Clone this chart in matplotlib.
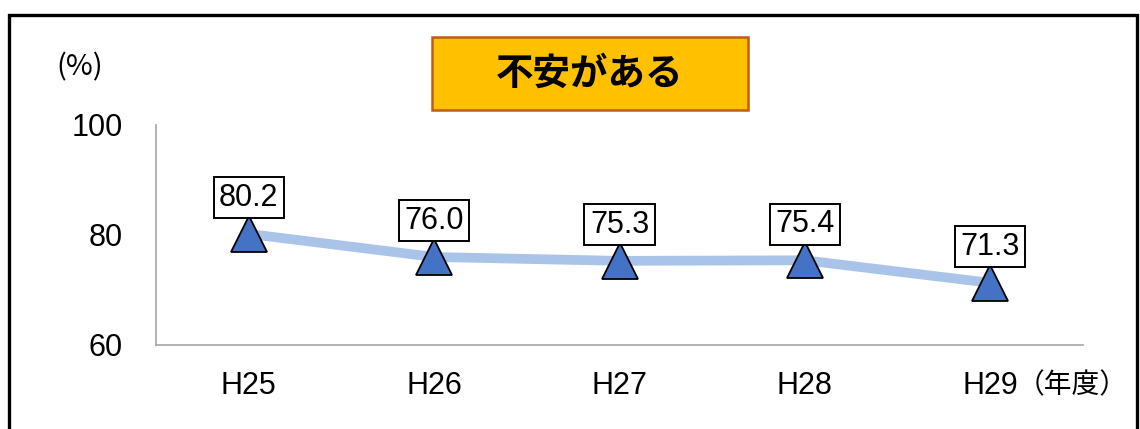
import matplotlib.pyplot as plt
from matplotlib.patches import Rectangle

plt.rcParams['font.family'] = ['Liberation Sans', 'Noto Sans CJK JP', 'DejaVu Sans']

# data
years = ["H25", "H26", "H27", "H28", "H29"]
values = [80.2, 76.0, 75.3, 75.4, 71.3]
y_ticks = [60, 80, 100]
title = "不安がある"

W, H = 1140, 429
fig = plt.figure(figsize=(W / 100, H / 100), dpi=100)

# outer black frame
fig.patches.append(Rectangle((9 / W, -0.05), (1137 - 9) / W, 1.05 - 15 / H,
                             transform=fig.transFigure, fill=False,
                             edgecolor="black", linewidth=2.4))

ax = fig.add_axes([156 / W, 84 / H, (1083 - 156) / W, (304 - 84) / H])
x = list(range(len(years)))

ax.plot(x, values, color="#a9c4e8", linewidth=7, solid_capstyle="butt", zorder=2)
ax.plot(x, values, linestyle="none", marker="^", markersize=26,
        markerfacecolor="#4472c4", markeredgecolor="black",
        markeredgewidth=1.3, zorder=3)

for xi, v in zip(x, values):
    ax.annotate(f"{v:.1f}", (xi, v), xytext=(0, 26), textcoords="offset points",
                ha="center", va="center", fontsize=22,
                bbox=dict(boxstyle="square,pad=0.18", facecolor="white",
                          edgecolor="black", linewidth=1.4),
                zorder=4)

ax.set_xlim(-0.5, len(years) - 0.5)
ax.set_ylim(60, 100)
ax.set_xticks(x)
ax.set_xticklabels(years, fontsize=22)
ax.set_yticks(y_ticks)
ax.set_yticklabels([str(t) for t in y_ticks], fontsize=22)
ax.tick_params(length=0)
ax.tick_params(axis="y", pad=24)
ax.tick_params(axis="x", pad=19)

for s in ["top", "right"]:
    ax.spines[s].set_visible(False)
for s in ["left", "bottom"]:
    ax.spines[s].set_color("#a6a6a6")
    ax.spines[s].set_linewidth(1.2)

fig.text(80 / W, 1 - 67 / H, "(%)", ha="center", va="center", fontsize=21,
         family=["Noto Sans CJK JP", "DejaVu Sans"])
fig.text(1072 / W, 1 - 385 / H, "（年度）", ha="center", va="center", fontsize=20,
         family=["Noto Sans CJK JP", "DejaVu Sans"])

fig.text(590 / W, 1 - 73 / H, title, ha="center", va="center", fontsize=27,
         fontweight="bold", family=["Noto Sans CJK JP", "DejaVu Sans"])
fig.patches.append(Rectangle((432 / W, 1 - 110 / H), (748 - 432) / W, 73 / H,
                             transform=fig.transFigure, facecolor="#ffc000",
                             edgecolor="#c55a11", linewidth=1.8, zorder=0))

fig.savefig("out.png", dpi=100)
